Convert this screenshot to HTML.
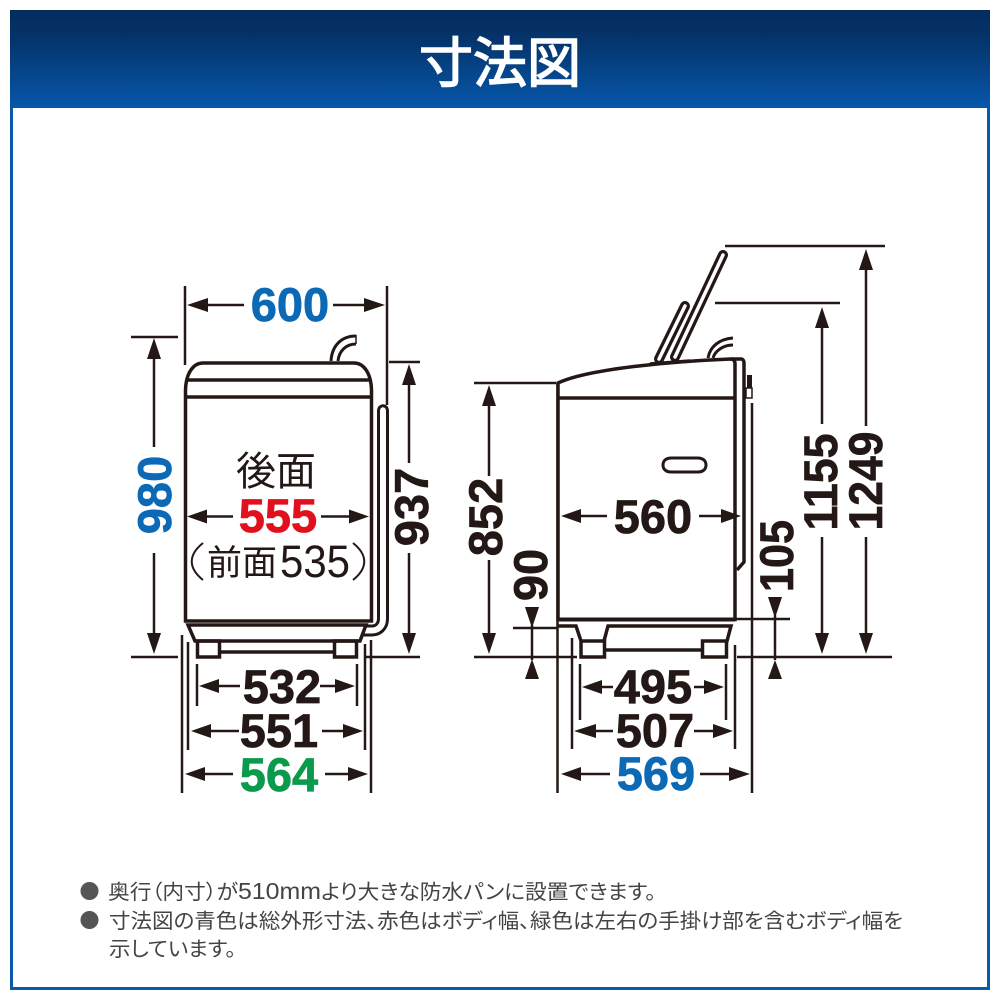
<!DOCTYPE html>
<html lang="ja"><head><meta charset="utf-8"><title>寸法図</title>
<style>
html,body{margin:0;padding:0;background:#fff}
svg{display:block}
.n{font-family:"Liberation Sans",sans-serif;font-weight:700;font-size:47px;text-anchor:middle;fill:#231815;stroke:#231815;stroke-width:.7px}
.b{fill:#0b69b5;stroke:#0b69b5}.r{fill:#e0101e;stroke:#e0101e}.g{fill:#0a9a4c;stroke:#0a9a4c}
.j{font-family:"Liberation Sans","Noto Sans CJK JP",sans-serif;fill:#231815}
.t{font-family:"Liberation Sans","Noto Sans CJK JP",sans-serif;fill:#444;font-size:20.5px;font-feature-settings:"palt" 1}
</style></head><body>
<svg width="1000" height="1000" viewBox="0 0 1000 1000" xmlns="http://www.w3.org/2000/svg">
<defs><linearGradient id="h" x1="0" y1="0" x2="0" y2="1"><stop offset="0" stop-color="#032c5e"/><stop offset=".3" stop-color="#05346b"/><stop offset="1" stop-color="#0657aa"/></linearGradient></defs>
<rect width="1000" height="1000" fill="#fff"/>
<rect x="11.500" y="11.500" width="977" height="977" fill="#fff" stroke="#0a5aab" stroke-width="3"/>
<rect x="10" y="10" width="980" height="98" fill="url(#h)"/>
<text class="j" x="500" y="82" text-anchor="middle" font-size="54" style="fill:#fff;stroke:#fff;stroke-width:1.600px">寸法図</text>

<!-- FRONT VIEW -->
<g fill="none" stroke="#231815" stroke-width="3.500">
<path d="M185.500 397V390C186 372 194 363 203 363H354C363 363 371 372 371.500 390V621H185.500Z"/>
<path d="M186 380H371M186 397H371"/>
<path d="M188 625H366L360 641H195Z"/>
<path d="M197.500 641H219.500V657H197.500ZM334.500 641H356.500V657H334.500ZM220 652H334"/>
<path d="M366 626H372C376 626 378.500 623 378.500 619V411C378.500 404 387.500 404 387.500 411V619C387.500 629 380 635 372 635H363" stroke-width="3"/>
<path d="M331 361C332 345 342 336 356 336M338 361C339 351 346 344 356 344" stroke-width="3"/>
</g>
<path d="M356 335V344" stroke="#231815" stroke-width="1.500"/>
<g stroke="#231815" stroke-width="2.500" fill="none">
<!-- extension lines front -->
<path d="M185 286V365M387 286V405M131 337H178M131 657H178M389 362H420M365 657H420"/>
<path d="M197 664V706M357 664V706M188 642V750M365 644V750M182 635V793M371 640V793"/>
<!-- dimension shafts front -->
<path d="M205 305H244M333 305H368M154 355V447M154 553V636M409 384V463M409 553V636"/>
<path d="M205 516.500H233M321 516.500H351M217 686H240M320 686H337M209 731H239M322 731H345M203 774H233M325 774H350"/>
</g>
<g fill="#231815">
<path d="M187 305l21-7v14zM385 305l-21-7v14zM154 338l-7 21h14zM154 654l-7-21h14zM409 364l-7 21h14zM409 654l-7-21h14z"/>
<path d="M187 516.500l20-7v14zM369 516.500l-20-7v14zM199 686l20-7v14zM355 686l-20-7v14zM191 731l20-7v14zM363 731l-20-7v14zM185 774l20-7v14zM368 774l-20-7v14z"/>
</g>
<text class="n b" x="290" y="321">600</text>
<text class="n r" x="278" y="532">555</text>
<text class="n" x="282" y="703">532</text>
<text class="n" x="279" y="747">551</text>
<text class="n g" x="279" y="791">564</text>
<text class="n b" transform="translate(171 495) rotate(-90)">980</text>
<text class="n" transform="translate(428 507) rotate(-90)">937</text>
<text class="j" x="276" y="485" text-anchor="middle" font-size="40">後面</text>
<text class="j" x="242" y="575" text-anchor="middle" font-size="35">前面</text>
<text x="315" y="577" text-anchor="middle" font-size="45" font-family="Liberation Sans, sans-serif" fill="#231815" textLength="70" lengthAdjust="spacingAndGlyphs">535</text>
<path d="M203 543C188 555 188 568 203 580M353 543C368 555 368 568 353 580" fill="none" stroke="#231815" stroke-width="2"/>

<!-- SIDE VIEW -->
<g fill="none" stroke="#231815" stroke-width="3.500">
<path d="M558 383V619.500H735V364C735 361 734 359 731 359C680 361 590 368 558 383Z"/>
<path d="M558 398H735M731 359H741C743 359 744 361 744 363V562L737 570"/>
<path d="M558 619.500H735" stroke-width="4"/>
<path d="M558 626H576L581 641M581 641H604.500V657H581ZM608 641"/>
<path d="M604 641L608 626H731L727 641H702.500V657H726.500V641M605 650H702"/>
<path d="M708 358C710 346 720 339 733 338M713 358C715 351 723 345 733 345" stroke-width="3"/>
<path d="M663 465C663 460 667 458 671 458H698C702 458 706 460 706 465C706 470 702 472 698 472H671C667 472 663 470 663 465Z" stroke-width="3"/>
<path d="M746 388H752V398H746Z" stroke-width="1.500"/>
</g>
<rect x="747" y="375" width="5" height="13" fill="#231815"/>
<g stroke-linecap="round" fill="none">
<path d="M723 255L675 357" stroke="#231815" stroke-width="10"/>
<path d="M723 255L675 357" stroke="#fff" stroke-width="3.500"/>
<path d="M685 306L659 359" stroke="#231815" stroke-width="10"/>
<path d="M685 306L659 359" stroke="#fff" stroke-width="3.500"/>
</g>
<path d="M650 364L690 361" stroke="#231815" stroke-width="3.500"/>
<g stroke="#231815" stroke-width="2.500" fill="none">
<path d="M725 246H885M715 303H840M474 383H556M474 657H577M737 657H892M513 628H558M735 619H790"/>
<path d="M557.500 383V793M752 403V793M572 638V749M735 645V749M580 664V720M726 664V720"/>
<path d="M866 268V426M866 537V636M822 326V424M822 537V636M489 404V476M489 560V636M532 625V660M775 615V660"/>
<path d="M600 516H607M699 516H725M579 516H607M600 687H613M694 687H705M594 731H613M694 731H715M579 774H610M700 774H731"/>
</g>
<g fill="#231815">
<path d="M866 249l-7 21h14zM866 654l-7-21h14zM822 307l-7 21h14zM822 654l-7-21h14zM489 385l-7 21h14zM489 654l-7-21h14z"/>
<path d="M532 628l-7-21h14zM532 659l-7 20h14zM775 618l-7-21h14zM775 660l-7 19h14z"/>
<path d="M561 516l20-7v14zM741 516l-20-7v14zM582 687l20-7v14zM724 687l-20-7v14zM574 731l22-7v14zM733 731l-20-7v14zM561 774l20-7v14zM750 774l-21-7v14z"/>
</g>
<text class="n" x="653" y="533">560</text>
<text class="n" x="653" y="703">495</text>
<text class="n" x="655" y="747">507</text>
<text class="n b" x="656" y="790">569</text>
<text class="n" transform="translate(502 517) rotate(-90)">852</text>
<text class="n" transform="translate(547 575) rotate(-90)">90</text>
<text class="n" transform="translate(793 556) rotate(-90)" textLength="72" lengthAdjust="spacingAndGlyphs">105</text>
<text class="n" transform="translate(837 482) rotate(-90)" textLength="97" lengthAdjust="spacingAndGlyphs">1155</text>
<text class="n" transform="translate(882 481) rotate(-90)" textLength="99" lengthAdjust="spacingAndGlyphs">1249</text>

<!-- NOTES -->
<circle cx="89.500" cy="891" r="9" fill="#555"/>
<circle cx="89.500" cy="920" r="9" fill="#555"/>
<text class="t" x="108" y="899" textLength="548" lengthAdjust="spacingAndGlyphs">奥行（内寸）が<tspan font-size="23.500" style="font-size:23.5px">510mm</tspan>より大きな防水パンに設置できます。</text>
<text class="t" x="109" y="928" textLength="794" lengthAdjust="spacingAndGlyphs">寸法図の青色は総外形寸法、赤色はボディ幅、緑色は左右の手掛け部を含むボディ幅を</text>
<text class="t" x="109" y="956" textLength="127" lengthAdjust="spacingAndGlyphs">示しています。</text>
</svg>
</body></html>
